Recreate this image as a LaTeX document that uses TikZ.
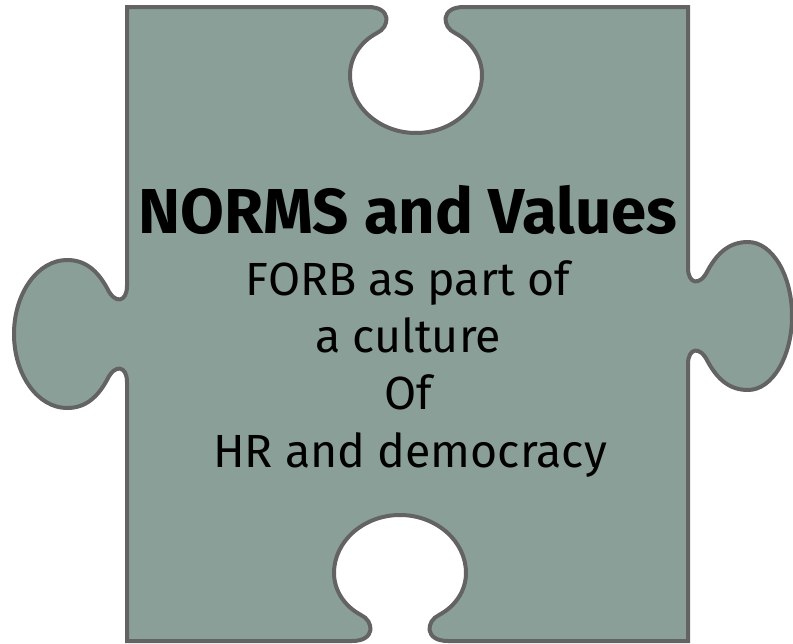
\documentclass[tikz,border=0pt]{standalone}
\usepackage{fontspec}
\setmainfont{Fira Sans}
\definecolor{piecefill}{HTML}{8A9F97}
\definecolor{pieceedge}{HTML}{636363}

\begin{document}
\begin{tikzpicture}[x=1pt,y=-1pt,
    piece/.style={fill=piecefill,draw=pieceedge,line width=4pt},
    heading/.style={anchor=base,inner sep=0pt,font=\fontsize{63.5}{76}\selectfont\bfseries},
    textline/.style={anchor=base,inner sep=0pt,font=\fontsize{46.5}{56}\selectfont}]
  \useasboundingbox (0,0) rectangle (793,643);
  % puzzle piece
  \draw[piece] (127,7) -- (368,7)
    .. controls (392,7) and (390,27) .. (377,33)
    .. controls (360,42) and (350,58) .. (350,75)
    .. controls (350,107) and (380,133) .. (416,133)
    .. controls (452,133) and (482,107) .. (482,75)
    .. controls (482,58) and (472,42) .. (455,33)
    .. controls (442,27) and (440,7) .. (464,7)
    -- (688,7) -- (688,268)
    .. controls (688,284) and (700,287) .. (708,270)
    .. controls (718,252) and (730,242) .. (748,242)
    .. controls (772,242) and (792,275) .. (792,316)
    .. controls (792,357) and (772,390) .. (748,390)
    .. controls (730,390) and (718,380) .. (708,362)
    .. controls (700,345) and (688,348) .. (688,364)
    -- (688,641) -- (448,641)
    .. controls (424,641) and (426,621) .. (439,615)
    .. controls (456,606) and (466,590) .. (466,573)
    .. controls (466,541) and (436,515) .. (400,515)
    .. controls (364,515) and (334,541) .. (334,573)
    .. controls (334,590) and (344,606) .. (361,615)
    .. controls (374,621) and (376,641) .. (352,641)
    -- (127,641) -- (127,382)
    .. controls (127,366) and (115,363) .. (107,380)
    .. controls (97,398) and (85,408) .. (67,408)
    .. controls (38,408) and (14,375) .. (14,334)
    .. controls (14,293) and (38,260) .. (67,260)
    .. controls (85,260) and (97,270) .. (107,288)
    .. controls (115,305) and (127,302) .. (127,286)
    -- cycle;
  % text
  \node[heading] (title) at (408,233) {NORMS and Values};
  \node[textline] (forb) at (408,295) {FORB as part of};
  \node[textline] (culture) at (408,352) {a culture};
  \node[textline] (of) at (408,409) {Of};
  \node[textline] (hr) at (410,467) {HR and democracy};
\end{tikzpicture}
\end{document}
